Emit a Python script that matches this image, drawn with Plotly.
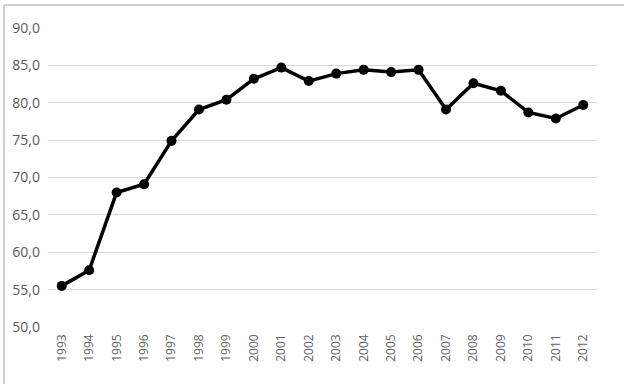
import plotly.graph_objects as go

years = [str(y) for y in range(1993, 2013)]
values = [55.5, 57.6, 68.0, 69.1, 74.9, 79.1, 80.4, 83.2, 84.7, 82.9,
          83.9, 84.4, 84.1, 84.4, 79.1, 82.6, 81.6, 78.7, 77.9, 79.7]
y_ticks = [50, 55, 60, 65, 70, 75, 80, 85, 90]

W, H = 624, 384
L, R, T, B = 48, 27, 28, 57
pw, ph = W - L - R, H - T - B

fig = go.Figure(go.Scatter(
    x=years, y=values, mode="lines+markers",
    line=dict(color="black", width=3.5),
    marker=dict(color="black", size=10),
))

font = dict(family="Open Sans, Liberation Sans, sans-serif", size=12, color="#595959")

bx, by = 4, 5
fig.update_layout(
    width=W, height=H,
    margin=dict(l=L, r=R, t=T, b=B, autoexpand=False),
    paper_bgcolor="white", plot_bgcolor="white",
    separators=", ",
    showlegend=False,
    font=font,
    xaxis=dict(type="category", tickangle=-90, showgrid=False, showline=False,
               range=[-0.5, len(years) - 0.5],
               automargin=False, ticks="", ticklen=0, ticklabelstandoff=4,
               tickfont=dict(size=12, color="#606060"), zeroline=False),
    yaxis=dict(range=[50, 90], tickvals=y_ticks, tickformat=".1f",
               automargin=False, ticklabelstandoff=7,
               showgrid=True, gridcolor="#d9d9d9", gridwidth=1, zeroline=False,
               showline=False, ticks="", tickfont=dict(size=14, color="#595959")),
    shapes=[
        dict(type="line", xref="paper", yref="paper", layer="above",
             x0=(bx - L) / pw, x1=(W - L) / pw,
             y0=1 + (T - by) / ph, y1=1 + (T - by) / ph,
             line=dict(color="#d0d0d0", width=2)),
        dict(type="line", xref="paper", yref="paper", layer="above",
             x0=(bx - L) / pw, x1=(bx - L) / pw,
             y0=1 + (T - by) / ph, y1=-(H - T - ph) / ph,
             line=dict(color="#d0d0d0", width=2)),
    ],
)

fig.write_html(
    "out.html",
    config={"displayModeBar": False},
    post_script="document.body.style.margin='0';document.body.style.overflow='hidden';",
)
